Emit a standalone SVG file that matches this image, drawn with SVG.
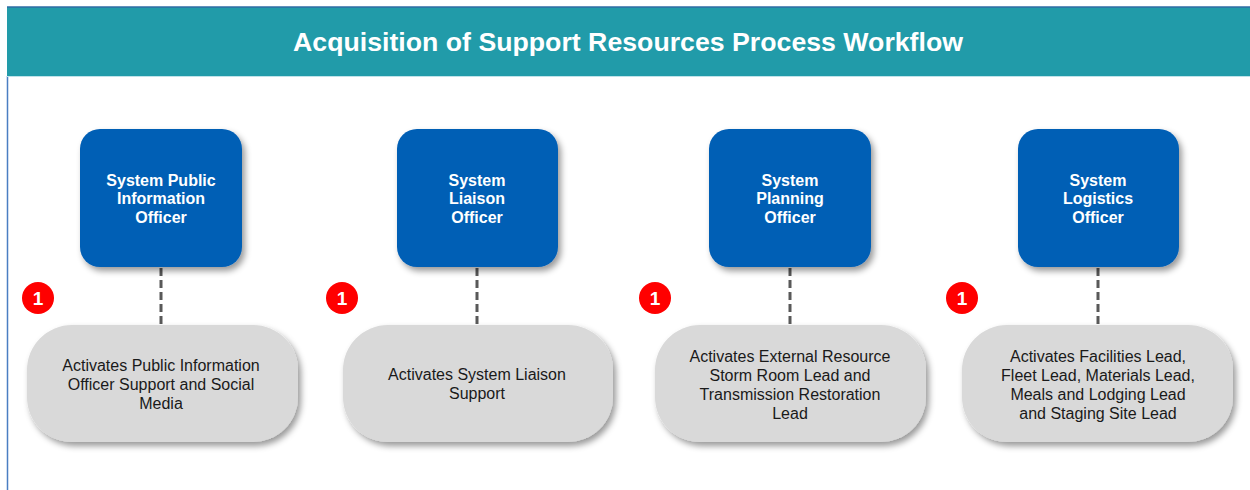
<svg xmlns="http://www.w3.org/2000/svg" width="1250" height="490" viewBox="0 0 1250 490">
<defs>
<filter id="sh" x="-20%" y="-20%" width="150%" height="150%">
<feDropShadow dx="3" dy="4" stdDeviation="3" flood-color="#000" flood-opacity="0.4"/>
</filter>
</defs>
<style>
.role{fill:#005EB5;filter:url(#sh)}
.act{fill:#D9D9D9;filter:url(#sh)}
.rt{font-family:"Liberation Sans",Arial,sans-serif;font-size:16px;font-weight:bold;fill:#fff;text-anchor:middle}
.at{font-family:"Liberation Sans",Arial,sans-serif;font-size:16px;fill:#1a1a1a;text-anchor:middle}
.badge{fill:#FF0000}
.bt{font-family:"Liberation Sans",Arial,sans-serif;font-size:19px;font-weight:bold;fill:#fff;text-anchor:middle}
.conn{stroke:#595959;stroke-width:3;stroke-dasharray:8 4;fill:none}
</style>
<rect width="1250" height="490" fill="#fff"/>
<rect x="7" y="7" width="1243" height="69" fill="#219BA9"/>
<line x1="7" y1="7" x2="1250" y2="7" stroke="#2E6DA4" stroke-width="1.5"/>
<line x1="7.5" y1="76" x2="7.5" y2="490" stroke="#4A7EC2" stroke-width="1.5"/>
<line x1="7" y1="76.5" x2="1250" y2="76.5" stroke="#BFE3EA" stroke-width="1"/>
<text x="628" y="51" font-family="'Liberation Sans',Arial,sans-serif" font-size="26" font-weight="bold" fill="#fff" text-anchor="middle" textLength="670" lengthAdjust="spacingAndGlyphs">Acquisition of Support Resources Process Workflow</text>

<g id="connectors">
<line class="conn" x1="161" y1="268" x2="161" y2="325"/>
<line class="conn" x1="477" y1="268" x2="477" y2="325"/>
<line class="conn" x1="790" y1="268" x2="790" y2="325"/>
<line class="conn" x1="1098" y1="268" x2="1098" y2="325"/>
</g>

<g id="n1">
<rect class="role" x="80" y="129" width="162" height="138" rx="20"/>
<text class="rt" x="161" y="186">System Public</text>
<text class="rt" x="161" y="204">Information</text>
<text class="rt" x="161" y="223">Officer</text>
</g>
<g id="n2">
<rect class="role" x="397" y="129" width="161" height="138" rx="20"/>
<text class="rt" x="477" y="186">System</text>
<text class="rt" x="477" y="204">Liaison</text>
<text class="rt" x="477" y="223">Officer</text>
</g>
<g id="n3">
<rect class="role" x="709" y="129" width="162" height="138" rx="20"/>
<text class="rt" x="790" y="186">System</text>
<text class="rt" x="790" y="204">Planning</text>
<text class="rt" x="790" y="223">Officer</text>
</g>
<g id="n4">
<rect class="role" x="1018" y="129" width="161" height="138" rx="20"/>
<text class="rt" x="1098" y="186">System</text>
<text class="rt" x="1098" y="204">Logistics</text>
<text class="rt" x="1098" y="223">Officer</text>
</g>

<g id="a1">
<rect class="act" x="27" y="325" width="271" height="117" rx="45"/>
<text class="at" x="161" y="371">Activates Public Information</text>
<text class="at" x="161" y="390">Officer Support and Social</text>
<text class="at" x="161" y="409">Media</text>
</g>
<g id="a2">
<rect class="act" x="343" y="325" width="270" height="117" rx="45"/>
<text class="at" x="477" y="380">Activates System Liaison</text>
<text class="at" x="477" y="399">Support</text>
</g>
<g id="a3">
<rect class="act" x="655" y="325" width="271" height="117" rx="45"/>
<text class="at" x="790" y="362">Activates External Resource</text>
<text class="at" x="790" y="381">Storm Room Lead and</text>
<text class="at" x="790" y="400">Transmission Restoration</text>
<text class="at" x="790" y="419">Lead</text>
</g>
<g id="a4">
<rect class="act" x="962" y="325" width="271" height="117" rx="45"/>
<text class="at" x="1098" y="362">Activates Facilities Lead,</text>
<text class="at" x="1098" y="381">Fleet Lead, Materials Lead,</text>
<text class="at" x="1098" y="400">Meals and Lodging Lead</text>
<text class="at" x="1098" y="419">and Staging Site Lead</text>
</g>

<g id="b1"><circle class="badge" cx="38" cy="298" r="16"/><text class="bt" x="38" y="305">1</text></g>
<g id="b2"><circle class="badge" cx="342" cy="298" r="16"/><text class="bt" x="342" y="305">1</text></g>
<g id="b3"><circle class="badge" cx="655" cy="298" r="16"/><text class="bt" x="655" y="305">1</text></g>
<g id="b4"><circle class="badge" cx="962" cy="298" r="16"/><text class="bt" x="962" y="305">1</text></g>
</svg>
